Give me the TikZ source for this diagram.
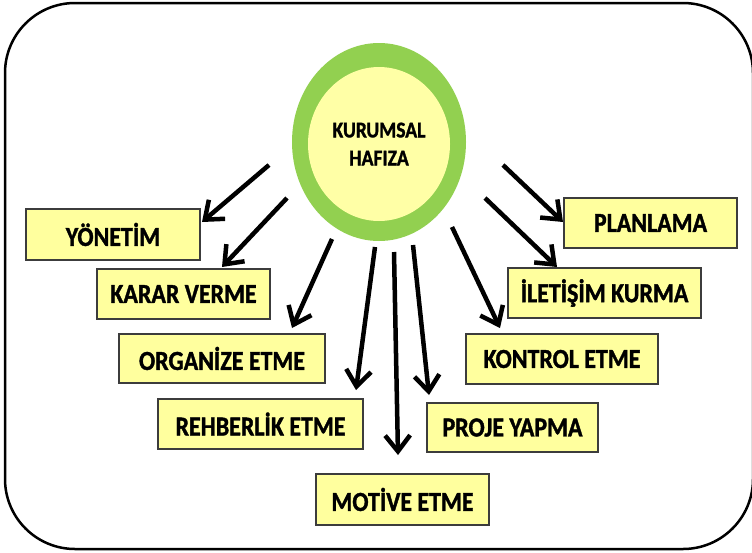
\documentclass[tikz,border=0pt]{standalone}
\usepackage{fontspec}
\setmainfont{Carlito}[FakeStretch=0.87, BoldFeatures={FakeBold=1.3}]
\usetikzlibrary{arrows.meta}
\definecolor{ringgreen}{HTML}{92D050}
\definecolor{paleyellow}{HTML}{FFFFA6}
\definecolor{boxyellow}{HTML}{FFFF9E}
\definecolor{boxedge}{HTML}{3C3C3C}
\tikzset{
  box/.style={draw=boxedge, line width=1.8pt, fill=boxyellow, inner sep=0pt,
    font=\fontsize{27.5}{30}\selectfont\bfseries},
  link/.style={line width=4.5pt, -{Straight Barb[length=16pt,width=25pt,line width=4.5pt]}}
}
\begin{document}
\begin{tikzpicture}[x=1pt,y=-1pt]
\useasboundingbox (0,0) rectangle (752,552);
% frame
\draw[line width=2.5pt, rounded corners=70pt] (5,3) rectangle (753,549);
% central ellipse
\fill[ringgreen] (379,142) ellipse [x radius=87, y radius=99];
\fill[paleyellow] (379,144) ellipse [x radius=71, y radius=77];
\node[align=center, font=\fontsize{22.5}{28}\selectfont\bfseries] (center) at (379,144) {KURUMSAL\\HAFIZA};
% boxes
\node[box, minimum width=174pt, minimum height=51pt] (yon) at (113,234.5) {YÖNETİM};
\node[box, minimum width=173pt, minimum height=50pt] (karar) at (183.5,294) {KARAR VERME};
\node[box, minimum width=206pt, minimum height=49pt] (org) at (222,358.5) {ORGANİZE ETME};
\node[box, minimum width=205pt, minimum height=50pt] (rehb) at (260.5,424) {REHBERLİK ETME};
\node[box, minimum width=173pt, minimum height=51pt] (mot) at (402.5,499.5) {MOTİVE ETME};
\node[box, minimum width=171pt, minimum height=49pt] (proje) at (512.5,427.5) {PROJE YAPMA};
\node[box, minimum width=192pt, minimum height=50pt] (kont) at (562,359) {KONTROL ETME};
\node[box, minimum width=193pt, minimum height=50pt] (ilet) at (604.5,293) {İLETİŞİM KURMA};
\node[box, minimum width=173pt, minimum height=50pt] (plan) at (650.5,223) {PLANLAMA};
% arrow start and end points
\coordinate (s1) at (269,165); \coordinate (t1) at (202,222);
\coordinate (s2) at (287,198); \coordinate (t2) at (222,267);
\coordinate (s3) at (332,239); \coordinate (t3) at (292,328);
\coordinate (s4) at (375,247); \coordinate (t4) at (356,390);
\coordinate (s5) at (394,252); \coordinate (t5) at (398,455);
\coordinate (s6) at (413,245); \coordinate (t6) at (429,395);
\coordinate (s7) at (452,227); \coordinate (t7) at (500,328);
\coordinate (s8) at (485,198); \coordinate (t8) at (557,267);
\coordinate (s9) at (503,165); \coordinate (t9) at (563,222);
\foreach \i in {1,...,9} \draw[link] (s\i) -- (t\i);
\end{tikzpicture}
\end{document}
